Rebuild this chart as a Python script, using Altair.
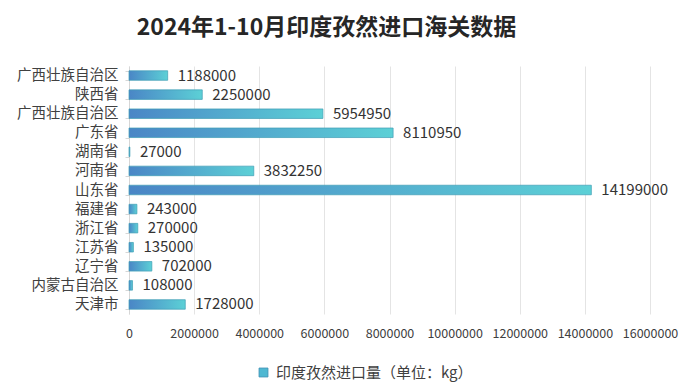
import altair as alt
import pandas as pd
import json

provinces = ["广西壮族自治区", "陕西省", "广西壮族自治区", "广东省", "湖南省", "河南省", "山东省",
             "福建省", "浙江省", "江苏省", "辽宁省", "内蒙古自治区", "天津市"]
values = [1188000, 2250000, 5954950, 8110950, 27000, 3832250, 14199000,
          243000, 270000, 135000, 702000, 108000, 1728000]
x_ticks = [0, 2000000, 4000000, 6000000, 8000000, 10000000, 12000000, 14000000, 16000000]
series_name = "印度孜然进口量（单位：kg）"
title_text = "2024年1-10月印度孜然进口海关数据"

df = pd.DataFrame({
    "key": list(range(len(provinces))),
    "province": provinces,
    "value": values,
    "series": [series_name] * len(provinces),
})

FONT = "Noto Sans CJK SC"
label_expr = json.dumps(provinces, ensure_ascii=False) + "[datum.value]"

grad = alt.Gradient(
    gradient="linear",
    stops=[alt.GradientStop(color="#4a86c6", offset=0),
           alt.GradientStop(color="#5cd0d6", offset=1)],
    x1=0, x2=1, y1=0, y2=0,
)

x_enc = alt.X("value:Q",
              scale=alt.Scale(domain=[0, 16000000], nice=False),
              axis=alt.Axis(values=x_ticks, format="d", title=None, domain=False, ticks=False,
                            grid=True, gridColor="#e4e4e4", labelFont=FONT, labelFontSize=12.5,
                            labelColor="#404040", labelPadding=13, labelOverlap=False,
                            labelFlush=False))
y_enc = alt.Y("key:O",
              scale=alt.Scale(paddingInner=0.5, paddingOuter=0.25),
              axis=alt.Axis(title=None, labelExpr=label_expr, labelFont=FONT, labelFontSize=14.5,
                            labelColor="#404040", labelPadding=7, domain=True, domainColor="#d6d6d6",
                            ticks=True, tickColor="#d6d6d6", tickSize=4, tickBand="extent",
                            grid=False, labelLimit=0))

bars = alt.Chart(df).mark_bar(fill=grad, stroke="#3f9db4", strokeWidth=0.7).encode(
    x=x_enc, y=y_enc
)

labels = alt.Chart(df).mark_text(align="left", baseline="middle", dx=10, font=FONT,
                                 fontSize=15, color="#333333").encode(
    x="value:Q", y="key:O", text=alt.Text("value:Q", format="d")
)

legend_layer = alt.Chart(df.head(1)).mark_point(opacity=0, shape="square", filled=True).encode(
    x="value:Q", y="key:O",
    color=alt.Color("series:N", scale=alt.Scale(range=["#4fb8d2"]),
                    legend=alt.Legend(title=None, orient="none", legendX=127, legendY=299,
                                      symbolType="square", symbolSize=80, symbolOpacity=1,
                                      symbolStrokeColor="#3f8fb4", symbolStrokeWidth=0.8,
                                      labelFont=FONT, labelFontSize=15, labelColor="#404040",
                                      labelOffset=5, labelLimit=0))
)

chart = alt.layer(bars, labels, legend_layer).properties(
    width=521, height=248,
    padding={"left": 121, "top": 58, "right": 30, "bottom": 70},
    autosize=alt.AutoSizeParams(type="none"),
    background="white",
    title=alt.TitleParams(text=title_text, font=FONT, fontSize=23, fontWeight="bold",
                          color="#262626", anchor="middle", frame="group", dx=-63, offset=18),
).configure_view(stroke=None)

chart.save("out.html", embed_options={"renderer": "svg", "actions": False})
